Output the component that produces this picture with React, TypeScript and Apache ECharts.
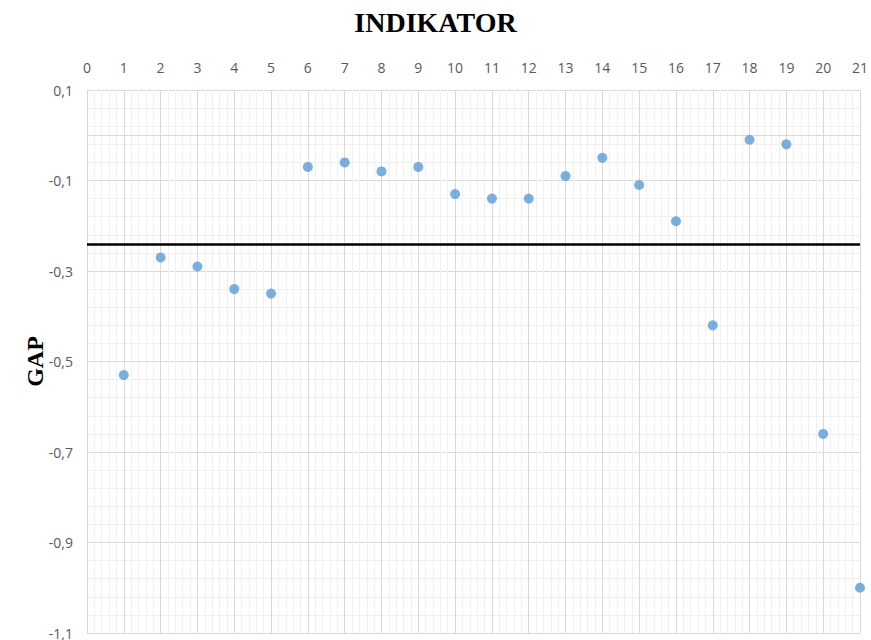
import React, { useEffect, useRef } from "react";
import * as echarts from "echarts";

const indicators = [1, 2, 3, 4, 5, 6, 7, 8, 9, 10, 11, 12, 13, 14, 15, 16, 17, 18, 19, 20, 21];
const gapValues = [
  -0.53, -0.27, -0.29, -0.34, -0.35, -0.07, -0.06, -0.08, -0.07, -0.13, -0.14,
  -0.14, -0.09, -0.05, -0.11, -0.19, -0.42, -0.01, -0.02, -0.66, -1.0,
];
const referenceLine = -0.237;
const yMin = -1.1;
const yMax = 0.1;
const yStep = 0.2;
const xMin = 0;
const xMax = 21;

const fmt = (v: number) => v.toFixed(1).replace(".", ",");

export default function App() {
  const ref = useRef<HTMLDivElement>(null);
  useEffect(() => {
    if (!ref.current) return;
    const chart = echarts.init(ref.current, undefined, { renderer: "svg" });
    const labelFont = "'Open Sans', 'Noto Sans', sans-serif";
    chart.setOption({
      animation: false,
      backgroundColor: "#ffffff",
      title: {
        text: "INDIKATOR",
        left: "center",
        top: 3,
        textStyle: {
          fontFamily: "'Liberation Serif', 'DejaVu Serif', serif",
          fontWeight: "bold",
          fontSize: 28,
          color: "#000000",
        },
      },
      grid: { left: 87, right: 10, top: 90, bottom: 7, containLabel: false },
      xAxis: {
        type: "value",
        position: "top",
        min: xMin,
        max: xMax,
        interval: 1,
        axisLine: { show: true, lineStyle: { color: "#d9d9d9" } },
        axisTick: { show: false },
        axisLabel: {
          color: "#595959",
          fontSize: 14,
          fontFamily: labelFont,
          margin: 16,
        },
        splitLine: { show: true, lineStyle: { color: "#d9d9d9", width: 1 } },
        minorTick: { show: false, splitNumber: 5 },
        minorSplitLine: { show: true, lineStyle: { color: "#f0f0f0", width: 1 } },
      },
      yAxis: {
        type: "value",
        min: yMin,
        max: yMax,
        interval: yStep,
        name: "GAP",
        nameLocation: "middle",
        nameRotate: 90,
        nameGap: 40,
        nameMoveOverlap: false,
        nameTextStyle: {
          fontFamily: "'Liberation Serif', 'DejaVu Serif', serif",
          fontWeight: "bold",
          fontSize: 24,
          color: "#000000",
        },
        axisLine: { show: true, lineStyle: { color: "#d9d9d9" } },
        axisTick: { show: false },
        axisLabel: {
          color: "#595959",
          fontSize: 14,
          fontFamily: labelFont,
          margin: 14,
          formatter: (v: number) => fmt(v),
        },
        splitLine: { show: true, lineStyle: { color: "#d9d9d9", width: 1 } },
        minorTick: { show: false, splitNumber: 5 },
        minorSplitLine: { show: true, lineStyle: { color: "#f0f0f0", width: 1 } },
      },
      series: [
        {
          type: "scatter",
          data: indicators.map((x, i) => [x, gapValues[i]]),
          symbol: "circle",
          symbolSize: 10,
          itemStyle: { color: "#5b9bd5" },
          markLine: {
            silent: true,
            symbol: "none",
            label: { show: false },
            lineStyle: { color: "#000000", width: 2.5, type: "solid" },
            data: [{ yAxis: referenceLine }],
          },
        },
      ],
    });
    return () => chart.dispose();
  }, []);
  return (
    <div
      ref={ref}
      style={{ position: "absolute", left: 0, top: 0, width: 871, height: 640 }}
    />
  );
}
